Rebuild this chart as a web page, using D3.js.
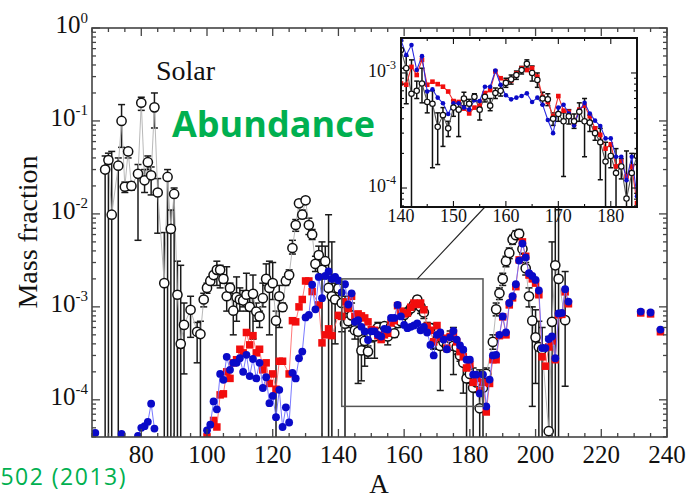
<!DOCTYPE html>
<html>
<head>
<meta charset="utf-8">
<script src="https://cdn.jsdelivr.net/npm/d3@7"></script>
<style>
  body { margin: 0; background: #fff; }
  svg { display: block; }
</style>
</head>
<body>
<svg id="chart" width="686" height="498"></svg>
<script>
// ---- Solar r-process abundances (mass number, value, error-bar low/high) ----
const solarA = [
  69, 70, 71, 73, 74, 75, 76, 77, 79, 80,
  81, 82, 83, 84, 85, 87, 88, 89, 90, 91,
  92, 93, 95, 97, 98, 99, 100, 101, 102, 103,
  104, 105, 106, 107, 108, 109, 110, 111, 112, 113,
  114, 115, 116, 117, 118, 119, 120, 121, 122, 123,
  124, 125, 126, 127, 128, 129, 130, 131, 132, 133,
  134, 135, 136, 137, 138, 139, 140, 141, 142, 143,
  144, 145, 146, 147, 148, 149, 150, 151, 152, 153,
  154, 155, 156, 157, 158, 159, 160, 161, 162, 163,
  164, 165, 166, 167, 168, 169, 170, 171, 172, 173,
  174, 175, 176, 177, 178, 179, 180, 181, 182, 183,
  184, 185, 187, 188, 189, 190, 191, 192, 193, 194,
  195, 196, 197, 198, 199, 200, 201, 202, 204, 205,
  206, 207, 209
];
const solarVal = [
  0.030, 0.038, 0.0098, 0.033, 0.10, 0.0196, 0.047, 0.020, 0.027, 0.157,
  0.023, 0.036, 0.026, 0.14, 0.017, 0.0018, 0.025, 0.0069, 0.0164, 0.00135,
  0.0004, 0.00064, 0.00093, 0.00054, 0.00051, 0.0012, 0.0016, 0.0019, 0.0022, 0.0025,
  0.0025, 0.0020, 0.0013, 0.0016, 0.00091, 0.00127, 0.0012, 0.00117, 0.00135, 0.0010,
  0.00138, 0.00089, 0.00079, 0.00124, 0.0020, 0.0016, 0.0018, 0.00071, 0.0013, 0.00099,
  0.0019, 0.0022, 0.0043, 0.0076, 0.013, 0.0098, 0.014, 0.0076, 0.0060, 0.0029,
  0.0036, 0.0025, 0.0031, 0.0016, 0.0013, 0.0012, 0.00158, 0.0011, 0.00066, 0.0007,
  0.00081, 0.00056, 0.00054, 0.00034, 0.00043, 0.00033, 0.0005, 0.00048, 0.0006, 0.00054,
  0.00062, 0.00048, 0.00062, 0.00052, 0.00067, 0.0007, 0.00082, 0.00088, 0.00096, 0.00106,
  0.0012, 0.001, 0.00087, 0.0006, 0.00059, 0.0004, 0.00044, 0.00038, 0.00042, 0.00038,
  0.00046, 0.00038, 0.00037, 0.0003, 0.00025, 0.00017, 0.00019, 0.000135, 0.000154, 0.000081,
  0.000135, 0.00019, 0.00042, 0.00094, 0.0014, 0.0020, 0.0031, 0.0038, 0.0053, 0.0059,
  0.0061, 0.0042, 0.0026, 0.0013, 0.00071, 0.00047, 0.00037, 0.00035, 0.000046, 0.00069,
  0.0028, 0.0020, 0.00072
];
const solarLow = [
  1e-6, 1e-6, 1e-6, 1e-6, 0.052, 0.017, 0.040, 0.018, 0.0052, 0.13,
  0.017, 0.030, 0.016, 0.084, 0.0062, 1e-6, 1e-6, 1e-6, 1e-6, 1e-6,
  1e-6, 0.00019, 0.00047, 0.00025, 1e-6, 0.0010, 0.0014, 0.0017, 0.0020, 0.0017,
  0.0016, 0.0018, 0.0009, 0.0014, 0.0005, 0.0007, 0.0009, 0.0010, 0.0009, 0.0005,
  0.00045, 0.0007, 0.0006, 0.0010, 0.0017, 0.0005, 0.0012, 1e-6, 0.0006, 0.0009,
  0.0017, 0.0020, 0.0037, 0.0065, 0.012, 0.009, 0.013, 0.006, 0.0053, 0.0024,
  0.0030, 1e-6, 0.0020, 1e-6, 1e-6, 0.0004, 0.0011, 0.00054, 1e-6, 0.0006,
  0.00055, 0.00045, 0.00015, 0.00016, 0.00023, 0.00028, 0.00042, 0.00028, 0.00052, 0.00048,
  0.00057, 0.00039, 0.00056, 0.00047, 0.0006, 0.00063, 0.00075, 0.0008, 0.00088, 0.00098,
  0.0011, 0.00085, 0.00075, 0.00053, 0.00052, 0.00035, 0.00038, 0.000126, 0.00036, 0.00033,
  0.00038, 0.000187, 0.00031, 0.00026, 0.000118, 1e-6, 0.00015, 1e-6, 0.00012, 1e-6,
  1e-6, 0.00016, 0.00035, 0.0008, 0.0012, 0.0017, 0.0027, 0.0033, 0.0047, 0.0053,
  0.0055, 0.0037, 0.0022, 0.0010, 0.000085, 0.00015, 1e-6, 1e-6, 1e-6, 1e-6,
  1e-6, 1e-6, 0.00014
];
const solarHigh = [
  0.042, 0.045, 0.047, 0.040, 0.15, 0.022, 0.050, 0.022, 0.034, 0.18,
  0.030, 0.042, 0.032, 0.20, 0.024, 0.0063, 0.030, 0.011, 0.019, 0.0031,
  0.0028, 0.0011, 0.0013, 0.00068, 0.0007, 0.0014, 0.0018, 0.0021, 0.0024, 0.0031,
  0.0028, 0.0022, 0.0027, 0.0018, 0.0012, 0.0021, 0.0016, 0.0015, 0.0023, 0.0014,
  0.0022, 0.0011, 0.0009, 0.0018, 0.0029, 0.0031, 0.0030, 0.0009, 0.0017, 0.0011,
  0.0021, 0.0025, 0.0052, 0.0087, 0.014, 0.011, 0.015, 0.009, 0.0068, 0.0035,
  0.0045, 0.0050, 0.0045, 0.0098, 0.0050, 0.0018, 0.0019, 0.0014, 0.0013, 0.00085,
  0.0011, 0.0007, 0.0007, 0.00045, 0.0005, 0.00038, 0.00058, 0.00055, 0.00068, 0.00059,
  0.00066, 0.00056, 0.00068, 0.0006, 0.00074, 0.00078, 0.0009, 0.00096, 0.00104, 0.00114,
  0.0013, 0.00115, 0.001, 0.00068, 0.00066, 0.00045, 0.0005, 0.00045, 0.00048, 0.00044,
  0.00055, 0.0006, 0.00043, 0.00034, 0.00033, 0.00025, 0.00023, 0.00022, 0.00018, 0.00021,
  0.0002, 0.00022, 0.0005, 0.0011, 0.0016, 0.0023, 0.0035, 0.0043, 0.0059, 0.0066,
  0.0068, 0.0048, 0.003, 0.0016, 0.001, 0.00093, 0.0007, 0.0006, 0.00048, 0.005,
  0.02, 0.02, 0.0024
];

// ---- Model abundances, red squares ----
const redA = [
  100, 102, 103, 104, 105, 106, 107, 108, 109, 110,
  111, 112, 113, 114, 115, 116, 117, 118, 119, 120,
  121, 122, 123, 125, 126, 127, 128, 129, 130, 131,
  132, 134, 135, 136, 137, 138,
  140, 141, 142, 143, 144, 145, 146, 147, 148, 149,
  150, 151, 152, 153, 154, 155, 156, 157, 158, 159,
  160, 161, 162, 163, 164, 165, 166, 167, 168, 169,
  170, 171, 172, 173, 174, 175, 176, 177, 178, 179,
  180, 181, 182, 183, 184, 185,
  186, 187, 188, 189, 190, 191, 192, 193, 194, 195,
  196, 197, 198, 199, 200, 201, 202, 203, 204, 205,
  206, 207, 208, 209, 210,
  232, 235, 238
];
const redVal = [
  4.0e-5, 6.0e-5, 5.1e-5, 1.13e-4, 1.16e-4, 2.0e-4, 1.7e-4, 2.5e-4, 2.7e-4, 3.5e-4,
  3.2e-4, 5.3e-4, 3.9e-4, 4.9e-4, 3.2e-4, 3.5e-4, 2.1e-4, 2.5e-4, 1.5e-4, 1.9e-4,
  1.3e-4, 2.6e-4, 2.6e-4, 1.9e-4, 7.1e-4, 6.9e-4, 1.0e-3, 1.2e-3, 1.9e-3, 1.9e-3,
  1.46e-3, 1.05e-3, 4.1e-4, 5.0e-4, 5.8e-4, 4.9e-4,
  8.1e-4, 7.9e-4, 1.13e-3, 9.6e-4, 1.3e-3, 7.9e-4, 8.4e-4, 8.0e-4, 7.6e-4, 6.9e-4,
  5.7e-4, 5.6e-4, 4.9e-4, 4.45e-4, 5.0e-4, 5.2e-4, 6.7e-4, 7.1e-4, 1.03e-3, 9.0e-4,
  8.4e-4, 8.6e-4, 9.9e-4, 1.1e-3, 1.06e-3, 1.1e-3, 9.3e-4, 6.2e-4, 5.6e-4, 4.2e-4,
  6.3e-4, 4.7e-4, 4.6e-4, 3.6e-4, 4.8e-4, 5.2e-4, 4.2e-4, 3.3e-4, 2.9e-4, 2.2e-4,
  2.4e-4, 1.54e-4, 1.7e-4, 1.26e-4, 1.54e-4, 7.4e-5,
  1.5e-4, 2.7e-4, 2.7e-4, 4.9e-4, 7.8e-4, 5.0e-4, 1.05e-3, 1.25e-3, 1.65e-3, 3.2e-3,
  5.0e-3, 3.5e-3, 2.2e-3, 2.0e-3, 1.8e-3, 1.35e-3, 2.9e-4, 2.3e-4, 3.7e-4, 4.3e-4,
  2.7e-4, 8.2e-4, 8.3e-4, 1.45e-3, 1.08e-3,
  8.6e-4, 8.4e-4, 5.4e-4
];

// ---- Model abundances, blue circles ----
const blueA = [
  66, 74, 79, 80, 81, 82, 83, 84,
  100, 101, 102, 103, 104, 105, 106, 107, 108, 109,
  110, 111, 112, 113, 114, 115, 116, 117, 118, 119,
  120, 121, 122, 123, 124, 125, 126, 127, 128, 129,
  130, 131, 132, 133, 134, 135, 136, 137, 138, 139,
  140, 141, 142, 143, 144, 145, 146, 147, 148, 149,
  150, 151, 152, 153, 154, 155, 156, 157, 158, 159,
  160, 161, 162, 163, 164, 165, 166, 167, 168, 169,
  170, 171, 172, 173, 174, 175, 176, 177, 178, 179,
  180, 181, 182, 183, 184, 185,
  186, 187, 188, 189, 190, 191, 192, 193, 194, 195,
  196, 197, 198, 199, 200, 201, 202, 203, 204, 205,
  206, 207, 208, 209, 210,
  232, 235, 238
];
const blueVal = [
  4.4e-5, 4.3e-5, 4.1e-5, 5.0e-5, 5.2e-5, 5.8e-5, 9.1e-5, 4.9e-5,
  4.7e-5, 5.4e-5, 9.6e-5, 7.9e-5, 1.9e-4, 1.64e-4, 2.9e-4, 2.1e-4, 2.5e-4, 2.5e-4,
  2.8e-4, 2.0e-4, 3.05e-4, 1.8e-4, 2.75e-4, 1.7e-4, 2.5e-4, 1.34e-4, 1.75e-4, 9.2e-5,
  1.1e-4, 6.5e-5, 1.28e-4, 5.1e-5, 8.3e-5, 5.7e-5, 1.95e-4, 1.7e-4, 2.8e-4, 3.3e-4,
  7.7e-4, 8.2e-4, 1.73e-3, 9.4e-4, 2.1e-3, 1.24e-3, 2.15e-3, 2.4e-3, 2.0e-3, 2.1e-3,
  1.93e-3, 1.43e-3, 1.75e-3, 1.06e-3, 1.4e-3, 6.9e-4, 7.2e-4, 6.1e-4, 5.45e-4, 4.4e-4,
  5.45e-4, 5.45e-4, 5.0e-4, 4.8e-4, 5.8e-4, 5.7e-4, 7.6e-4, 7.6e-4, 1.05e-3, 7.9e-4,
  6.4e-4, 5.9e-4, 6.1e-4, 6.3e-4, 6.65e-4, 5.6e-4, 6.1e-4, 5.3e-4, 3.9e-4, 3.0e-4,
  5.0e-4, 5.3e-4, 4.45e-4, 3.5e-4, 4.7e-4, 5.5e-4, 4.45e-4, 3.85e-4, 3.46e-4, 2.7e-4,
  2.7e-4, 1.87e-4, 1.87e-4, 1.17e-4, 1.87e-4, 8.5e-5,
  1.65e-4, 3.0e-4, 3.05e-4, 5.0e-4, 7.9e-4, 5.3e-4, 1.1e-3, 1.3e-3, 1.75e-3, 3.15e-3,
  4.8e-3, 3.4e-3, 2.3e-3, 2.15e-3, 1.95e-3, 1.5e-3, 3.6e-4, 3.6e-4, 4.5e-4, 4.8e-4,
  2.8e-4, 8.5e-4, 8.6e-4, 1.55e-3, 1.14e-3,
  8.9e-4, 8.7e-4, 5.7e-4
];

// ---- Axes ----
const mainXTicks = [80, 100, 120, 140, 160, 180, 200, 220, 240];
const mainYExps = [0, -1, -2, -3, -4];
const insetXTicks = [140, 150, 160, 170, 180];
const insetYExps = [-3, -4];
const zoomA = [141, 184];          // A-range of the magnified window
const zoomV = [8.5e-5, 2.0e-3];    // abundance range of the magnified window
const connectorA = [164, 156];     // leader line: window top -> inset bottom

const GREEN = "#00b050";
const SERIF = "'Liberation Serif', 'Times New Roman', serif";

const svg = d3.select("#chart");
svg.append("rect").attr("width", 686).attr("height", 498).attr("fill", "#fff");

const x = d3.scaleLinear().domain([65, 240]).range([92, 667]);
const y = d3.scaleLog().domain([Math.pow(10, -4.4), 1]).range([437, 28]);

const ix = d3.scaleLinear().domain([140, 185]).range([401, 637]);
const iy = d3.scaleLog().domain([Math.pow(10, -4.165), Math.pow(10, -2.696)]).range([207, 38]);

const solar = solarA.map((a, i) => ({ a, v: solarVal[i], lo: solarLow[i], hi: solarHigh[i] }));
const red = redA.map((a, i) => ({ a, v: redVal[i] }));
const blue = blueA.map((a, i) => ({ a, v: blueVal[i] }));

// split a series into connected runs (no line across gaps in A)
function runs(pts, maxGap) {
  const out = [];
  let cur = [];
  pts.forEach((p, i) => {
    if (i > 0 && p.a - pts[i - 1].a > maxGap) { out.push(cur); cur = []; }
    cur.push(p);
  });
  if (cur.length) out.push(cur);
  return out;
}

const defs = svg.append("defs");
function clipRect(id, xs, ys) {
  const [x0, x1] = xs.range(), [y0, y1] = ys.range();
  defs.append("clipPath").attr("id", id).append("rect")
    .attr("x", Math.min(x0, x1)).attr("y", Math.min(y0, y1))
    .attr("width", Math.abs(x1 - x0)).attr("height", Math.abs(y1 - y0));
}
clipRect("clipMain", x, y);
clipRect("clipInset", ix, iy);

function drawPanel(g, xs, ys, o) {
  const line = d3.line().x(d => xs(d.a)).y(d => ys(d.v));

  // error bars of the solar values
  const bars = g.append("g").attr("stroke", o.barColor).attr("stroke-width", o.barWidth);
  solar.forEach(d => {
    if (d.hi / d.lo < 1.04) return;
    const xx = xs(d.a);
    bars.append("line").attr("x1", xx).attr("x2", xx).attr("y1", ys(d.lo)).attr("y2", ys(d.hi));
    [d.lo, d.hi].forEach(e => {
      if (e > 1e-5) {
        bars.append("line").attr("x1", xx - o.cap).attr("x2", xx + o.cap)
          .attr("y1", ys(e)).attr("y2", ys(e));
      }
    });
  });

  g.append("path").datum(solar).attr("d", line)
    .attr("fill", "none").attr("stroke", o.solarLine).attr("stroke-width", o.solarLineWidth);

  const solarDots = () => g.append("g").selectAll("circle").data(solar).join("circle")
    .attr("cx", d => xs(d.a)).attr("cy", d => ys(d.v)).attr("r", o.solarR)
    .attr("fill", "#fff").attr("stroke", "#111").attr("stroke-width", o.solarStroke);

  if (!o.solarOnTop) solarDots();

  runs(red, 2).forEach(r => g.append("path").datum(r).attr("d", line)
    .attr("fill", "none").attr("stroke", o.redLine).attr("stroke-width", o.lineWidth));
  g.append("g").selectAll("rect").data(red).join("rect")
    .attr("x", d => xs(d.a) - o.sq / 2).attr("y", d => ys(d.v) - o.sq / 2)
    .attr("width", o.sq).attr("height", o.sq).attr("fill", "#f20d0d");

  runs(blue, 2).forEach(r => g.append("path").datum(r).attr("d", line)
    .attr("fill", "none").attr("stroke", o.blueLine).attr("stroke-width", o.lineWidth));
  g.append("g").selectAll("circle").data(blue).join("circle")
    .attr("cx", d => xs(d.a)).attr("cy", d => ys(d.v)).attr("r", o.blueR)
    .attr("fill", "#0a0ac8");

  if (o.solarOnTop) solarDots();
}

// log-axis tick values inside a domain
function logTicks(scale) {
  const [d0, d1] = scale.domain();
  const out = [];
  for (let e = Math.floor(Math.log10(d0)); e <= Math.ceil(Math.log10(d1)); e++) {
    for (let k = 1; k <= 9; k++) {
      const v = k * Math.pow(10, e);
      if (v >= d0 * 0.999 && v <= d1 * 1.001) out.push({ v, major: k === 1 });
    }
  }
  return out;
}

function drawFrame(g, xs, ys, o) {
  const [xl, xr] = xs.range(), [yb, yt] = ys.range();
  const t = g.append("g").attr("stroke", o.color).attr("stroke-width", o.tickWidth);
  const [a0, a1] = xs.domain();
  for (let a = Math.ceil(a0 / o.xMinor) * o.xMinor; a <= a1 + 1e-9; a += o.xMinor) {
    const major = Math.abs(a / o.xMajor - Math.round(a / o.xMajor)) < 1e-9;
    const len = major ? o.major : o.minor;
    const xx = xs(a);
    t.append("line").attr("x1", xx).attr("x2", xx).attr("y1", yb).attr("y2", yb - len);
    t.append("line").attr("x1", xx).attr("x2", xx).attr("y1", yt).attr("y2", yt + len);
  }
  logTicks(ys).forEach(d => {
    const len = d.major ? o.major : o.minor;
    const yy = ys(d.v);
    t.append("line").attr("x1", xl).attr("x2", xl + len).attr("y1", yy).attr("y2", yy);
    t.append("line").attr("x1", xr).attr("x2", xr - len).attr("y1", yy).attr("y2", yy);
  });
  g.append("rect").attr("x", xl).attr("y", yt).attr("width", xr - xl).attr("height", yb - yt)
    .attr("fill", "none").attr("stroke", o.color).attr("stroke-width", o.frameWidth);
}

function powerLabel(g, xPos, yPos, exp, size, supSize) {
  const t = g.append("text").attr("x", xPos).attr("y", yPos)
    .attr("text-anchor", "end").attr("font-family", SERIF).attr("font-size", size).attr("fill", "#111");
  t.append("tspan").text("10");
  t.append("tspan").attr("font-size", supSize).attr("dy", -size * 0.42).text(String(exp));
}

// ---------- main panel ----------
const mainG = svg.append("g").attr("clip-path", "url(#clipMain)");
drawPanel(mainG, x, y, {
  barColor: "#1a1a1a", barWidth: 1.5, cap: 3.5,
  solarLine: "#b0b0b0", solarLineWidth: 0.9, solarR: 4.6, solarStroke: 1.5,
  redLine: "#ff6a6a", blueLine: "#6a6aff", lineWidth: 0.9,
  sq: 7.5, blueR: 3.9, solarOnTop: false
});

// magnified window and its leader line
svg.append("rect")
  .attr("x", x(zoomA[0])).attr("y", y(zoomV[1]))
  .attr("width", x(zoomA[1]) - x(zoomA[0])).attr("height", y(zoomV[0]) - y(zoomV[1]))
  .attr("fill", "none").attr("stroke", "#555").attr("stroke-width", 1.5);
svg.append("line")
  .attr("x1", x(connectorA[0])).attr("y1", y(zoomV[1]))
  .attr("x2", ix(connectorA[1])).attr("y2", iy.range()[0])
  .attr("stroke", "#222").attr("stroke-width", 1.1);

drawFrame(svg.append("g"), x, y, {
  color: "#444", tickWidth: 1.3, frameWidth: 1.6,
  xMajor: 20, xMinor: 5, major: 8, minor: 4
});

const mainLabels = svg.append("g");
mainXTicks.forEach(v => {
  mainLabels.append("text").attr("x", x(v)).attr("y", 463)
    .attr("text-anchor", "middle").attr("font-family", SERIF).attr("font-size", 25)
    .attr("fill", "#111").text(v);
});
mainYExps.forEach(e => powerLabel(mainLabels, 88, y(Math.pow(10, e)) + 5, e, 25, 15));

svg.append("text").attr("transform", "translate(37,232) rotate(-90)")
  .attr("text-anchor", "middle").attr("font-family", SERIF).attr("font-size", 28)
  .attr("fill", "#111").text("Mass fraction");
svg.append("text").attr("x", 379).attr("y", 493)
  .attr("text-anchor", "middle").attr("font-family", SERIF).attr("font-size", 27)
  .attr("fill", "#111").text("A");
svg.append("text").attr("x", 156).attr("y", 80)
  .attr("font-family", SERIF).attr("font-size", 28).attr("fill", "#111").text("Solar");

// ---------- inset ----------
svg.append("rect").attr("x", ix.range()[0]).attr("y", iy.range()[1])
  .attr("width", ix.range()[1] - ix.range()[0]).attr("height", iy.range()[0] - iy.range()[1])
  .attr("fill", "#fff");
const insetG = svg.append("g").attr("clip-path", "url(#clipInset)");
drawPanel(insetG, ix, iy, {
  barColor: "#111", barWidth: 1.5, cap: 2.5,
  solarLine: "#555", solarLineWidth: 1.1, solarR: 2.7, solarStroke: 1.2,
  redLine: "#f03030", blueLine: "#2a2ae0", lineWidth: 1.1,
  sq: 4.6, blueR: 2.3, solarOnTop: true
});
drawFrame(svg.append("g"), ix, iy, {
  color: "#111", tickWidth: 1.1, frameWidth: 2,
  xMajor: 10, xMinor: 5, major: 6, minor: 3
});
const insetLabels = svg.append("g");
insetXTicks.forEach(v => {
  insetLabels.append("text").attr("x", ix(v)).attr("y", 222)
    .attr("text-anchor", "middle").attr("font-family", SERIF).attr("font-size", 18)
    .attr("fill", "#111").text(v);
});
insetYExps.forEach(e => powerLabel(insetLabels, 396, iy(Math.pow(10, e)) + 4, e, 18, 12));

// ---------- annotations ----------
svg.append("text").attr("x", 172).attr("y", 137)
  .attr("font-family", "'Open Sans', sans-serif").attr("font-weight", 700).attr("font-size", 36)
  .attr("fill", GREEN).text("Abundance");
svg.append("text").attr("x", 127).attr("y", 485).attr("text-anchor", "end")
  .attr("font-family", "'Open Sans', sans-serif").attr("font-size", 23)
  .attr("letter-spacing", 1.5)
  .attr("fill", GREEN).text("502 (2013)");
</script>
</body>
</html>
